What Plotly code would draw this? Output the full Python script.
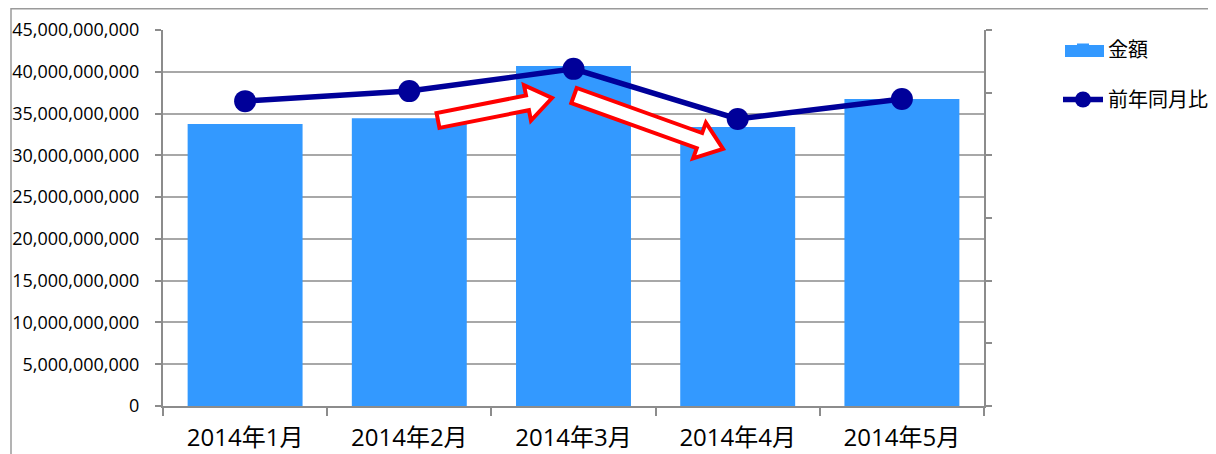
import math
import plotly.graph_objects as go

# ---- data ----
categories = ["2014年1月", "2014年2月", "2014年3月", "2014年4月", "2014年5月"]
amounts = [33.75e9, 34.45e9, 40.7e9, 33.4e9, 36.75e9]      # 金額
yoy = [97.3, 100.5, 107.6, 91.6, 98.0]                      # 前年同月比 (secondary axis, unlabeled)
y_ticks = list(range(0, 45_000_000_001, 5_000_000_000))

# the page body has an 8px default margin; the figure is sized to fill the rest
OFF = 8
W, H = 1216 - OFF, 454 - OFF
# plot area in screenshot pixels
PL, PR, PT, PB = 163, 984, 30, 406
PW, PH = PR - PL, PB - PT
ML, MT = PL - OFF, PT - OFF
MR, MB = W - (PR - OFF), H - (PB - OFF)

FONT = "Open Sans, Noto Sans CJK JP, sans-serif"
BAR_COLOR = "#3399FF"
LINE_COLOR = "#000099"


def px2paper(x, y):
    return (x - PL) / PW, (PB - y) / PH


def arrow_path(tail, tip, w, hw, hl):
    tx, ty = tail
    px, py = tip
    L = math.hypot(px - tx, py - ty)
    ux, uy = (px - tx) / L, (py - ty) / L
    nx, ny = -uy, ux
    bx, by = px - ux * hl, py - uy * hl
    pts = [
        (tx + nx * w, ty + ny * w),
        (bx + nx * w, by + ny * w),
        (bx + nx * hw, by + ny * hw),
        (px, py),
        (bx - nx * hw, by - ny * hw),
        (bx - nx * w, by - ny * w),
        (tx - nx * w, ty - ny * w),
    ]
    pp = [px2paper(a, b) for a, b in pts]
    return "M " + " L ".join(f"{a:.5f},{b:.5f}" for a, b in pp) + " Z"


fig = go.Figure()
fig.add_trace(go.Bar(
    x=categories, y=amounts, name="金額",
    marker=dict(color=BAR_COLOR, line=dict(width=0)),
    legendgroup="a",
))
fig.add_trace(go.Scatter(
    x=categories, y=yoy, name="前年同月比", yaxis="y2",
    mode="lines+markers",
    line=dict(color=LINE_COLOR, width=5.5),
    marker=dict(color=LINE_COLOR, size=22),
    legendgroup="b",
))

axis_line = "#8c8c8c"
fig.update_layout(
    width=W, height=H,
    margin=dict(l=ML, r=MR, t=MT, b=MB, pad=0, autoexpand=False),
    paper_bgcolor="white", plot_bgcolor="white",
    font=dict(family=FONT, color="#000"),
    bargap=0.3,
    showlegend=True,
    legend=dict(
        x=px2paper(1058, 0)[0], y=px2paper(0, 30)[1], xanchor="left", yanchor="top",
        font=dict(size=20, family=FONT),
        traceorder="grouped", tracegroupgap=21, itemwidth=40,
        bgcolor="rgba(0,0,0,0)",
    ),
    xaxis=dict(
        type="category", showline=True, linecolor=axis_line, linewidth=2,
        ticks="outside", ticklen=8, tickcolor=axis_line, tickwidth=2,
        tickson="boundaries", showgrid=False, ticklabelstandoff=9,
        tickfont=dict(size=24, family=FONT),
    ),
    yaxis=dict(
        range=[0, 45e9], tickvals=y_ticks, tickformat=",d",
        showline=True, linecolor=axis_line, linewidth=2,
        ticks="outside", ticklen=6, tickcolor=axis_line, tickwidth=2,
        showgrid=True, gridcolor="#a8a8a8", gridwidth=1.5,
        zeroline=False, ticklabelstandoff=12,
        tickfont=dict(size=18, family=FONT),
    ),
    yaxis2=dict(
        overlaying="y", side="right", range=[0, 120], dtick=20,
        showline=True, linecolor=axis_line, linewidth=2,
        ticks="outside", ticklen=6, tickcolor=axis_line, tickwidth=2,
        showticklabels=False, showgrid=False, zeroline=False,
    ),
)

shapes = []
# outer frame (left and top edges)
x0, y0 = px2paper(11, 460)
x1, y1 = px2paper(11, 8.8)
x2, _ = px2paper(1230, 8.8)
shapes.append(dict(type="path", xref="paper", yref="paper",
                   path=f"M {x0},{y0} L {x1},{y1} L {x2},{y1}",
                   line=dict(color="#9a9a9a", width=1.5), layer="above"))
# wide legend swatch for the bar series (as in the original)
sx0, sy0 = px2paper(1065, 57)
sx1, sy1 = px2paper(1104, 45)
shapes.append(dict(type="rect", xref="paper", yref="paper",
                   x0=sx0, y0=sy0, x1=sx1, y1=sy1,
                   fillcolor=BAR_COLOR, line=dict(width=0), layer="above"))
# red outline arrows
shapes.append(dict(type="path", xref="paper", yref="paper",
                   path=arrow_path((438, 120.5), (552, 98), 7.5, 18, 25),
                   line=dict(color="#ff0000", width=4), fillcolor="white", layer="above"))
shapes.append(dict(type="path", xref="paper", yref="paper",
                   path=arrow_path((574, 95.5), (723, 149), 8, 19, 25),
                   line=dict(color="#ff0000", width=4), fillcolor="white", layer="above"))
fig.update_layout(shapes=shapes)

fig.write_html("out.html")
